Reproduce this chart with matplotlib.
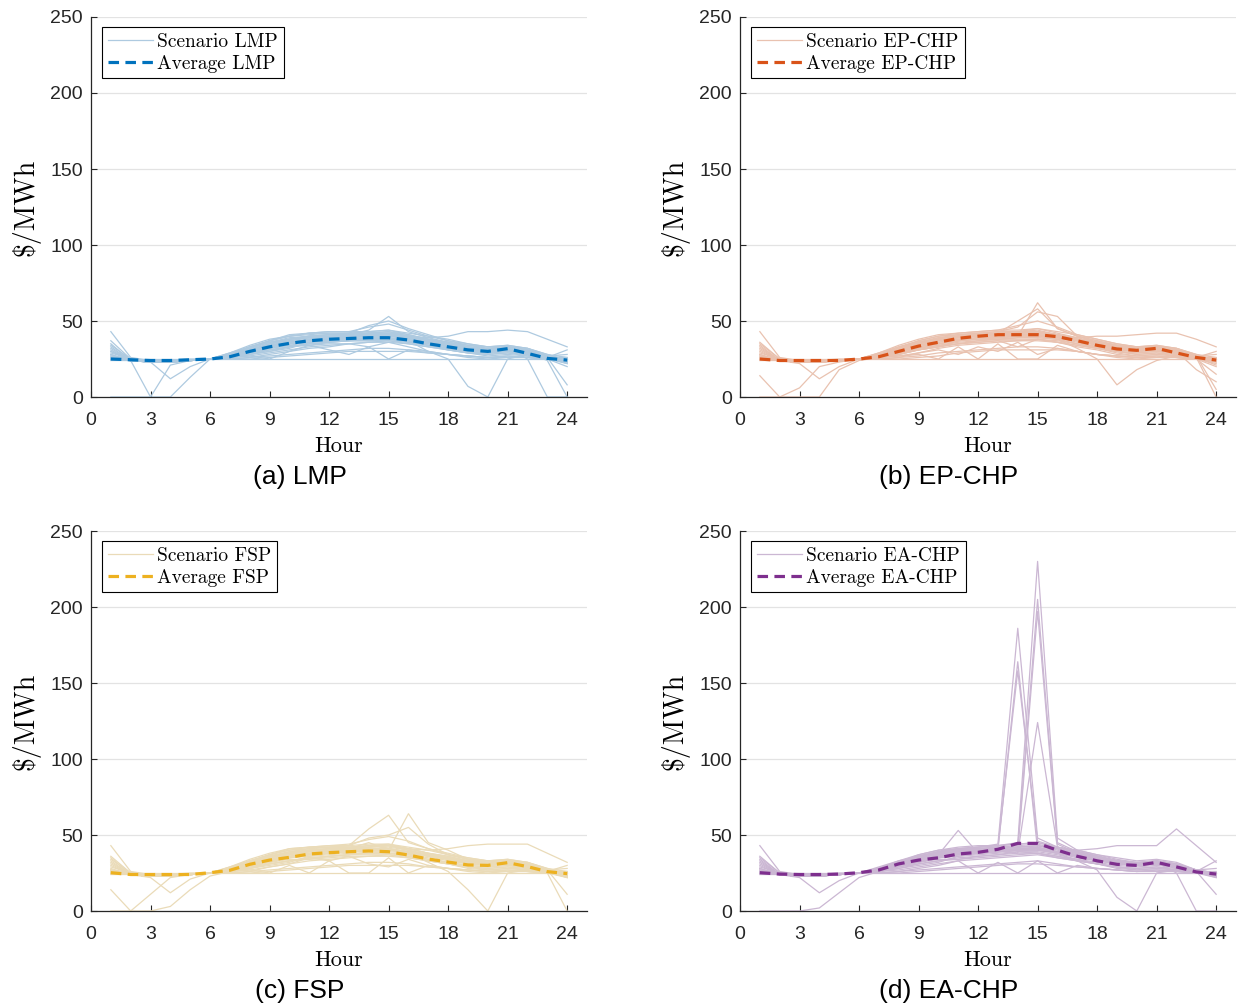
import numpy as np
import matplotlib
matplotlib.use("Agg")
import matplotlib.pyplot as plt

hours = list(range(1, 25))
x_ticks = [0, 3, 6, 9, 12, 15, 18, 21, 24]
y_ticks = [0, 50, 100, 150, 200, 250]

# Hourly price scenarios ($/MWh) for each price type
lmp_scen = [
    [43, 26, 24, 24, 24, 25, 29, 33, 37, 40, 41, 42, 42, 43, 44, 41, 38, 35, 33, 31, 33, 31, 27, 24],
    [37, 25, 24, 23, 24, 25, 28, 32, 36, 38, 40, 41, 42, 42, 43, 40, 37, 35, 32, 30, 32, 30, 26, 23],
    [35, 24, 23, 23, 24, 25, 27, 31, 35, 37, 39, 40, 41, 41, 42, 40, 37, 34, 32, 30, 32, 29, 26, 22],
    [33, 24, 23, 23, 24, 25, 27, 30, 34, 36, 38, 39, 40, 41, 41, 39, 36, 34, 31, 30, 31, 29, 25, 22],
    [30, 25, 24, 24, 24, 25, 26, 29, 32, 35, 37, 38, 39, 40, 41, 38, 36, 33, 31, 30, 31, 28, 25, 23],
    [25, 25, 25, 25, 25, 25, 25, 25, 25, 25, 25, 25, 25, 25, 25, 25, 25, 25, 25, 25, 25, 25, 25, 25],
    [25, 24, 23, 23, 24, 25, 26, 28, 31, 33, 35, 36, 37, 38, 38, 37, 35, 32, 30, 29, 30, 28, 25, 24],
    [26, 24, 24, 24, 24, 25, 28, 33, 37, 41, 42, 42, 42, 47, 50, 45, 41, 37, 34, 32, 33, 31, 27, 25],
    [27, 25, 24, 24, 25, 25, 27, 31, 35, 38, 40, 40, 41, 44, 53, 43, 39, 36, 34, 33, 34, 32, 28, 24],
    [0, 0, 0, 0, 13, 25, 26, 29, 32, 34, 36, 37, 38, 39, 40, 38, 35, 33, 30, 29, 31, 29, 24, 0],
    [25, 24, 0, 21, 24, 25, 27, 30, 33, 36, 38, 39, 40, 42, 41, 39, 36, 33, 31, 30, 31, 29, 25, 20],
    [28, 24, 23, 12, 20, 25, 26, 28, 30, 33, 35, 36, 37, 37, 38, 36, 34, 32, 30, 29, 30, 28, 25, 24],
    [25, 24, 24, 24, 24, 25, 26, 27, 25, 30, 34, 31, 28, 33, 36, 33, 30, 28, 27, 26, 27, 26, 25, 24],
    [25, 24, 24, 24, 24, 25, 25, 26, 28, 30, 32, 33, 35, 33, 25, 31, 30, 28, 26, 25, 26, 26, 25, 24],
    [25, 24, 23, 23, 24, 25, 27, 30, 33, 35, 36, 37, 38, 38, 39, 37, 30, 25, 7, 0, 25, 28, 25, 24],
    [25, 24, 23, 23, 24, 25, 27, 31, 34, 37, 39, 40, 40, 41, 42, 40, 39, 40, 43, 43, 44, 43, 38, 33],
    [24, 24, 24, 24, 24, 25, 27, 30, 33, 36, 38, 39, 39, 40, 41, 39, 37, 34, 32, 31, 32, 25, 0, 0],
    [31, 24, 23, 23, 24, 25, 28, 32, 36, 39, 40, 41, 41, 42, 43, 41, 38, 36, 33, 31, 32, 30, 26, 8],
    [25, 24, 23, 23, 24, 25, 27, 31, 35, 38, 40, 41, 41, 42, 42, 40, 38, 36, 33, 32, 33, 31, 26, 31],
    [25, 25, 24, 24, 24, 25, 29, 34, 38, 40, 42, 43, 43, 46, 48, 44, 40, 38, 35, 33, 33, 32, 28, 26],
    [27, 24, 23, 23, 24, 25, 26, 27, 29, 31, 33, 34, 35, 36, 36, 35, 33, 31, 29, 28, 29, 27, 25, 23],
    [29, 25, 24, 24, 24, 25, 27, 29, 31, 33, 34, 35, 35, 36, 37, 35, 33, 31, 29, 28, 29, 28, 25, 24],
    [32, 24, 23, 23, 24, 25, 28, 31, 34, 36, 37, 38, 38, 39, 39, 38, 36, 34, 32, 30, 31, 29, 26, 25],
    [26, 24, 24, 24, 24, 25, 25, 26, 27, 28, 29, 30, 31, 32, 32, 31, 29, 28, 27, 26, 27, 26, 25, 24],
    [25, 24, 23, 23, 24, 25, 27, 32, 37, 40, 42, 43, 43, 43, 44, 42, 40, 37, 35, 33, 34, 32, 27, 25],
    [30, 24, 23, 23, 24, 25, 26, 28, 30, 32, 36, 38, 39, 40, 40, 39, 37, 35, 33, 31, 32, 30, 26, 24],
    [25, 25, 24, 24, 24, 25, 26, 30, 32, 34, 34, 36, 37, 37, 37, 36, 34, 32, 30, 29, 30, 29, 26, 26],
    [34, 25, 24, 24, 24, 25, 28, 33, 36, 38, 39, 39, 40, 40, 41, 39, 37, 35, 32, 31, 32, 30, 27, 28],
    [25, 24, 23, 23, 24, 25, 25, 25, 26, 27, 28, 29, 30, 30, 30, 30, 29, 28, 27, 26, 26, 26, 25, 24],
    [28, 24, 23, 23, 24, 25, 28, 30, 33, 35, 36, 37, 37, 38, 38, 37, 34, 31, 29, 27, 28, 27, 25, 24],
]

ep_scen = [
    [43, 26, 24, 24, 24, 25, 29, 33, 37, 40, 41, 42, 43, 43, 45, 42, 39, 36, 33, 31, 33, 31, 27, 24],
    [36, 25, 24, 23, 24, 25, 28, 32, 36, 38, 40, 41, 42, 43, 44, 41, 38, 35, 32, 30, 32, 30, 26, 23],
    [34, 24, 23, 23, 24, 25, 27, 31, 35, 38, 40, 41, 41, 42, 43, 40, 37, 34, 32, 30, 32, 29, 26, 21],
    [32, 24, 23, 23, 24, 25, 27, 30, 34, 37, 39, 40, 41, 42, 42, 40, 37, 34, 31, 30, 31, 29, 25, 20],
    [14, 0, 6, 20, 23, 25, 26, 29, 32, 35, 37, 38, 39, 40, 41, 39, 36, 33, 31, 30, 31, 28, 25, 15],
    [25, 25, 25, 25, 25, 25, 25, 25, 25, 25, 25, 25, 25, 25, 25, 25, 25, 25, 25, 25, 25, 25, 25, 25],
    [0, 0, 0, 0, 18, 24, 26, 28, 31, 34, 36, 37, 38, 39, 39, 38, 35, 33, 30, 29, 30, 28, 25, 24],
    [28, 24, 22, 12, 20, 25, 27, 31, 35, 38, 40, 41, 42, 50, 58, 45, 40, 37, 34, 32, 33, 31, 27, 25],
    [27, 25, 24, 24, 25, 25, 27, 31, 35, 38, 40, 41, 42, 40, 62, 45, 40, 36, 34, 33, 34, 32, 28, 24],
    [26, 24, 24, 24, 24, 25, 28, 32, 36, 39, 41, 42, 43, 46, 56, 53, 40, 37, 34, 32, 33, 31, 27, 5],
    [25, 24, 24, 24, 24, 25, 26, 27, 28, 25, 33, 25, 35, 25, 25, 34, 30, 28, 27, 26, 27, 26, 25, 24],
    [25, 24, 24, 24, 24, 25, 25, 26, 29, 31, 28, 33, 30, 36, 28, 32, 30, 28, 26, 25, 26, 26, 25, 24],
    [25, 24, 23, 23, 24, 25, 27, 30, 33, 35, 37, 38, 39, 40, 40, 38, 32, 25, 8, 18, 24, 27, 25, 24],
    [25, 24, 23, 23, 24, 25, 27, 31, 34, 37, 39, 40, 41, 42, 43, 41, 39, 40, 40, 41, 42, 42, 38, 33],
    [24, 24, 24, 24, 24, 25, 27, 30, 33, 36, 38, 39, 40, 41, 41, 39, 37, 34, 32, 31, 32, 30, 18, 10],
    [31, 24, 23, 23, 24, 25, 28, 32, 36, 39, 40, 41, 41, 42, 43, 41, 38, 36, 33, 31, 32, 30, 26, 0],
    [25, 24, 23, 23, 24, 25, 27, 31, 35, 38, 40, 41, 42, 43, 43, 41, 38, 36, 33, 32, 33, 31, 26, 30],
    [25, 25, 24, 24, 24, 25, 29, 34, 38, 41, 42, 43, 44, 47, 50, 46, 41, 38, 35, 33, 33, 32, 28, 26],
    [25, 24, 23, 23, 24, 25, 26, 28, 31, 33, 35, 36, 37, 33, 38, 36, 33, 31, 28, 27, 28, 27, 25, 22],
    [27, 24, 23, 23, 24, 25, 26, 27, 29, 32, 34, 35, 36, 37, 37, 36, 34, 32, 30, 28, 29, 27, 25, 23],
    [29, 25, 24, 24, 24, 25, 27, 29, 31, 33, 35, 36, 37, 37, 38, 36, 34, 32, 30, 28, 29, 28, 25, 24],
    [33, 24, 23, 23, 24, 25, 28, 31, 34, 36, 38, 39, 39, 40, 40, 39, 37, 35, 32, 30, 31, 29, 26, 25],
    [26, 24, 24, 24, 24, 25, 25, 26, 27, 29, 30, 31, 32, 33, 33, 32, 30, 28, 27, 26, 27, 26, 25, 24],
    [25, 24, 23, 23, 24, 25, 27, 32, 37, 40, 42, 43, 44, 44, 45, 43, 41, 38, 35, 33, 34, 32, 27, 25],
    [30, 24, 23, 23, 24, 25, 26, 28, 31, 33, 37, 39, 40, 41, 41, 40, 38, 35, 33, 31, 32, 30, 26, 24],
    [25, 25, 24, 24, 24, 25, 26, 30, 32, 34, 35, 37, 38, 38, 38, 37, 35, 33, 30, 29, 30, 29, 26, 26],
    [35, 25, 24, 24, 24, 25, 28, 33, 36, 38, 39, 40, 41, 41, 42, 40, 38, 35, 32, 31, 32, 30, 27, 28],
    [25, 24, 23, 23, 24, 25, 25, 25, 26, 27, 29, 30, 31, 31, 31, 31, 30, 28, 27, 26, 26, 26, 25, 24],
    [28, 24, 23, 23, 24, 25, 28, 30, 33, 35, 37, 38, 38, 39, 39, 38, 35, 32, 29, 27, 28, 27, 25, 24],
]

fsp_scen = [
    [43, 26, 24, 24, 24, 25, 29, 33, 37, 40, 41, 42, 42, 43, 44, 41, 38, 35, 33, 31, 33, 31, 27, 24],
    [36, 25, 24, 23, 24, 25, 28, 32, 36, 38, 40, 41, 42, 42, 43, 40, 37, 35, 32, 30, 32, 30, 26, 23],
    [35, 24, 23, 23, 24, 25, 27, 31, 35, 37, 39, 40, 41, 41, 42, 40, 37, 34, 32, 30, 32, 29, 26, 22],
    [33, 24, 23, 23, 24, 25, 27, 30, 34, 36, 38, 39, 40, 41, 41, 39, 36, 34, 31, 30, 31, 29, 25, 22],
    [14, 0, 11, 22, 24, 25, 26, 29, 32, 35, 37, 38, 39, 40, 41, 38, 36, 33, 31, 30, 31, 28, 25, 23],
    [25, 25, 25, 25, 25, 25, 25, 25, 25, 25, 25, 25, 25, 25, 25, 25, 25, 25, 25, 25, 25, 25, 25, 25],
    [0, 0, 0, 3, 14, 23, 26, 28, 31, 33, 35, 36, 37, 38, 38, 37, 35, 32, 30, 29, 30, 28, 25, 24],
    [27, 24, 22, 12, 21, 25, 28, 33, 37, 41, 42, 42, 43, 54, 63, 45, 41, 37, 34, 32, 33, 31, 27, 25],
    [27, 25, 24, 24, 25, 25, 27, 31, 35, 38, 40, 40, 41, 45, 40, 64, 45, 40, 34, 33, 34, 32, 28, 24],
    [26, 24, 24, 24, 24, 25, 28, 32, 36, 39, 41, 42, 43, 48, 50, 55, 44, 37, 34, 32, 33, 31, 27, 11],
    [25, 24, 24, 24, 24, 25, 26, 27, 25, 30, 25, 33, 25, 25, 35, 25, 30, 28, 27, 26, 27, 26, 25, 24],
    [25, 24, 24, 24, 24, 25, 25, 26, 29, 31, 35, 33, 36, 31, 29, 34, 30, 28, 26, 25, 26, 26, 25, 24],
    [25, 24, 23, 23, 24, 25, 27, 30, 33, 35, 37, 38, 39, 40, 40, 38, 32, 26, 14, 0, 25, 27, 25, 24],
    [25, 24, 23, 23, 24, 25, 27, 31, 34, 37, 39, 40, 41, 42, 43, 41, 40, 41, 43, 44, 44, 44, 38, 32],
    [24, 24, 24, 24, 24, 25, 27, 30, 33, 36, 38, 39, 40, 41, 41, 39, 37, 34, 32, 31, 32, 30, 25, 0],
    [31, 24, 23, 23, 24, 25, 28, 32, 36, 39, 40, 41, 41, 42, 43, 41, 38, 36, 33, 31, 32, 30, 26, 22],
    [25, 24, 23, 23, 24, 25, 27, 31, 35, 38, 40, 41, 42, 43, 43, 41, 38, 36, 33, 32, 33, 31, 26, 30],
    [25, 25, 24, 24, 24, 25, 29, 34, 38, 41, 42, 43, 44, 47, 49, 46, 41, 38, 35, 33, 33, 32, 28, 26],
    [25, 24, 23, 23, 24, 25, 26, 28, 31, 33, 35, 36, 37, 39, 38, 36, 33, 31, 28, 27, 28, 27, 25, 23],
    [27, 24, 23, 23, 24, 25, 26, 27, 29, 31, 33, 34, 35, 36, 36, 35, 33, 31, 29, 28, 29, 27, 25, 23],
    [29, 25, 24, 24, 24, 25, 27, 29, 31, 33, 34, 35, 36, 36, 37, 35, 33, 31, 29, 28, 29, 28, 25, 24],
    [32, 24, 23, 23, 24, 25, 28, 31, 34, 36, 37, 38, 39, 39, 39, 38, 36, 34, 32, 30, 31, 29, 26, 25],
    [26, 24, 24, 24, 24, 25, 25, 26, 27, 28, 29, 30, 31, 32, 32, 31, 29, 28, 27, 26, 27, 26, 25, 24],
    [25, 24, 23, 23, 24, 25, 27, 32, 37, 40, 42, 43, 43, 44, 44, 42, 40, 37, 35, 33, 34, 32, 27, 25],
    [30, 24, 23, 23, 24, 25, 26, 28, 30, 32, 36, 38, 39, 40, 40, 39, 37, 35, 33, 31, 32, 30, 26, 24],
    [25, 25, 24, 24, 24, 25, 26, 30, 32, 34, 34, 36, 37, 37, 37, 36, 34, 32, 30, 29, 30, 29, 26, 26],
    [34, 25, 24, 24, 24, 25, 28, 33, 36, 38, 39, 39, 40, 41, 41, 39, 37, 35, 32, 31, 32, 30, 27, 28],
    [25, 24, 23, 23, 24, 25, 25, 25, 26, 27, 28, 29, 30, 30, 30, 30, 29, 28, 27, 26, 26, 26, 25, 24],
    [28, 24, 23, 23, 24, 25, 28, 30, 33, 35, 36, 37, 38, 38, 38, 37, 34, 31, 29, 27, 28, 27, 25, 24],
]

ea_scen = [
    [43, 26, 24, 24, 24, 25, 29, 33, 37, 40, 41, 42, 43, 44, 45, 42, 39, 36, 33, 31, 33, 31, 27, 24],
    [36, 25, 24, 23, 24, 25, 28, 32, 36, 38, 40, 41, 42, 43, 44, 41, 38, 35, 32, 30, 32, 30, 26, 23],
    [34, 24, 23, 23, 24, 25, 27, 31, 35, 37, 39, 40, 41, 42, 43, 40, 37, 34, 32, 30, 32, 29, 26, 22],
    [32, 24, 23, 23, 24, 25, 27, 30, 34, 36, 38, 39, 40, 41, 42, 39, 36, 34, 31, 30, 31, 29, 25, 25],
    [0, 0, 0, 2, 12, 22, 26, 29, 32, 35, 37, 38, 39, 40, 41, 38, 36, 33, 31, 30, 31, 28, 25, 23],
    [25, 25, 25, 25, 25, 25, 25, 25, 25, 25, 25, 25, 25, 25, 25, 25, 25, 25, 25, 25, 25, 25, 25, 25],
    [28, 24, 22, 12, 20, 25, 27, 30, 34, 37, 53, 38, 39, 40, 41, 38, 35, 33, 31, 30, 31, 29, 25, 24],
    [26, 24, 24, 24, 24, 25, 28, 32, 36, 39, 41, 42, 44, 186, 48, 42, 39, 36, 33, 31, 32, 30, 26, 24],
    [27, 25, 24, 24, 25, 25, 27, 31, 35, 38, 40, 41, 40, 164, 40, 41, 38, 35, 33, 31, 32, 30, 26, 11],
    [25, 24, 24, 24, 24, 25, 27, 31, 35, 38, 40, 41, 42, 158, 46, 42, 39, 36, 33, 32, 33, 31, 27, 25],
    [26, 24, 24, 24, 24, 25, 28, 32, 36, 39, 41, 42, 43, 45, 230, 48, 40, 37, 34, 32, 33, 31, 27, 25],
    [25, 24, 24, 24, 24, 25, 27, 31, 35, 38, 40, 41, 42, 42, 205, 45, 39, 36, 33, 31, 32, 30, 26, 24],
    [25, 24, 24, 24, 24, 25, 27, 30, 34, 37, 39, 40, 41, 40, 197, 44, 38, 35, 33, 31, 32, 30, 26, 23],
    [25, 24, 24, 24, 24, 25, 27, 30, 33, 36, 38, 39, 40, 38, 124, 42, 38, 35, 33, 31, 32, 30, 26, 24],
    [25, 24, 24, 24, 24, 25, 25, 26, 28, 30, 33, 25, 32, 25, 33, 25, 30, 28, 27, 26, 27, 26, 25, 24],
    [25, 24, 23, 23, 24, 25, 27, 30, 33, 35, 37, 38, 39, 40, 40, 38, 33, 27, 9, 0, 25, 27, 25, 24],
    [25, 24, 23, 23, 24, 25, 27, 31, 34, 37, 39, 40, 41, 42, 43, 41, 40, 41, 43, 43, 43, 54, 43, 32],
    [24, 24, 24, 24, 24, 25, 27, 30, 33, 36, 38, 39, 40, 41, 41, 39, 37, 34, 32, 31, 32, 25, 0, 0],
    [31, 24, 23, 23, 24, 25, 28, 32, 36, 39, 40, 41, 41, 42, 43, 41, 38, 36, 33, 31, 32, 30, 26, 33],
    [25, 24, 23, 23, 24, 25, 26, 28, 31, 33, 35, 36, 37, 39, 38, 36, 33, 31, 28, 27, 28, 27, 25, 22],
    [27, 24, 23, 23, 24, 25, 26, 27, 29, 31, 33, 34, 35, 36, 37, 35, 33, 31, 29, 28, 29, 27, 25, 23],
    [29, 25, 24, 24, 24, 25, 27, 29, 31, 33, 34, 35, 36, 37, 38, 35, 33, 31, 29, 28, 29, 28, 25, 24],
    [33, 24, 23, 23, 24, 25, 28, 31, 34, 36, 37, 38, 39, 40, 40, 38, 36, 34, 32, 30, 31, 29, 26, 25],
    [26, 24, 24, 24, 24, 25, 25, 26, 27, 28, 29, 30, 31, 32, 33, 31, 29, 28, 27, 26, 27, 26, 25, 24],
    [25, 24, 23, 23, 24, 25, 27, 32, 37, 40, 42, 43, 43, 44, 45, 42, 40, 37, 35, 33, 34, 32, 27, 25],
    [30, 24, 23, 23, 24, 25, 26, 28, 30, 32, 36, 38, 39, 40, 41, 39, 37, 35, 33, 31, 32, 30, 26, 24],
    [25, 25, 24, 24, 24, 25, 26, 30, 32, 34, 34, 36, 37, 38, 38, 36, 34, 32, 30, 29, 30, 29, 26, 26],
    [35, 25, 24, 24, 24, 25, 28, 33, 36, 38, 39, 39, 40, 41, 42, 39, 37, 35, 32, 31, 32, 30, 27, 28],
    [25, 24, 23, 23, 24, 25, 25, 25, 26, 27, 28, 29, 30, 31, 31, 30, 29, 28, 27, 26, 26, 26, 25, 24],
    [28, 24, 23, 23, 24, 25, 28, 30, 33, 35, 36, 37, 38, 39, 39, 37, 34, 31, 29, 27, 28, 27, 25, 24],
]

# Expected (probability-weighted) prices
lmp_avg = [25, 24.5, 24, 24, 24.5, 25, 26.5, 30, 33, 35.3, 37, 38, 38.5, 39, 39, 37.5, 35, 33, 31, 30, 31.8, 28.7, 25.4, 24.3]
ep_avg = [25, 24, 24, 24, 24, 25, 26.5, 30, 33.5, 36, 38.6, 40, 41, 41, 41, 39.7, 37, 34, 31.6, 30.7, 32, 29, 26, 24.3]
fsp_avg = [25.2, 24, 24, 24, 24, 25.2, 26.8, 30.7, 33.5, 35.3, 37.5, 38.4, 39, 39.5, 39, 36.8, 34.2, 32.2, 30.3, 30, 31.8, 29.2, 25.9, 24.6]
ea_avg = [25.2, 24.3, 24, 24, 24.3, 25.2, 27, 31, 33.5, 35, 37.5, 38.6, 40.6, 44.5, 44.5, 40, 36, 33, 30.7, 30, 32, 29, 25.7, 24.3]

names = ["LMP", "EP-CHP", "FSP", "EA-CHP"]
captions = ["(a) LMP", "(b) EP-CHP", "(c) FSP", "(d) EA-CHP"]
scenarios = [lmp_scen, ep_scen, fsp_scen, ea_scen]
averages = [lmp_avg, ep_avg, fsp_avg, ea_avg]
light_colors = ["#aecae0", "#e9c2b0", "#eadbb8", "#cbb7d3"]
dark_colors = ["#0072BD", "#D95319", "#EDB120", "#7E2F8E"]

W, H = 1238, 1006
fig = plt.figure(figsize=(W / 100, H / 100), dpi=100)

serif = "cmr10"
sans = "Liberation Sans"
axis_gray = "#262626"

# axes boxes in pixels: (left, top)
boxes = [(91, 17), (740, 17), (91, 531), (740, 531)]
ax_w, ax_h = 496, 380
caption_pos = [(300, 477), (949, 477), (300, 991), (949, 991)]

for i in range(4):
    left, top = boxes[i]
    ax = fig.add_axes([left / W, 1 - (top + ax_h) / H, ax_w / W, ax_h / H])
    scen = np.array(scenarios[i], dtype=float)
    for k, row in enumerate(scen):
        ax.plot(hours, row, color=light_colors[i], lw=0.9,
                label=f"Scenario {names[i]}" if k == 0 else None, zorder=2)
    ax.plot(hours, averages[i], color=dark_colors[i], lw=2.3,
            linestyle=(0, (3.3, 2.0)), label=f"Average {names[i]}", zorder=3)

    ax.set_xlim(0, 25)
    ax.set_ylim(0, 250)
    ax.set_xticks(x_ticks)
    ax.set_yticks(y_ticks)
    ax.yaxis.grid(True, color="#e3e3e3", lw=0.9, zorder=0)
    ax.set_axisbelow(True)
    for s in ["top", "right"]:
        ax.spines[s].set_visible(False)
    for s in ["left", "bottom"]:
        ax.spines[s].set_color(axis_gray)
        ax.spines[s].set_linewidth(0.9)
    ax.tick_params(direction="in", length=4, width=0.8, colors=axis_gray,
                   labelsize=14)
    ax.tick_params(axis="x", pad=11)
    ax.tick_params(axis="y", pad=6)
    for lab in ax.get_xticklabels() + ax.get_yticklabels():
        lab.set_fontfamily(sans)

    ax.set_xlabel("Hour", fontfamily=serif, fontsize=16, labelpad=5, color="black")
    ax.set_ylabel("$/MWh", fontfamily=serif, fontsize=20, labelpad=7, color="black")

    leg = ax.legend(loc="upper left", bbox_to_anchor=(0.022, 0.974), borderaxespad=0,
                    prop={"family": serif, "size": 14}, frameon=True, fancybox=False,
                    framealpha=1, edgecolor="black", handlelength=2.35,
                    handletextpad=0.2, borderpad=0.3, labelspacing=0.2)
    leg.get_frame().set_linewidth(0.8)

    cx, cy = caption_pos[i]
    fig.text(cx / W, 1 - cy / H, captions[i], ha="center", va="center",
             fontsize=19, fontfamily=sans, color="black")

fig.savefig("out.png", dpi=100)
